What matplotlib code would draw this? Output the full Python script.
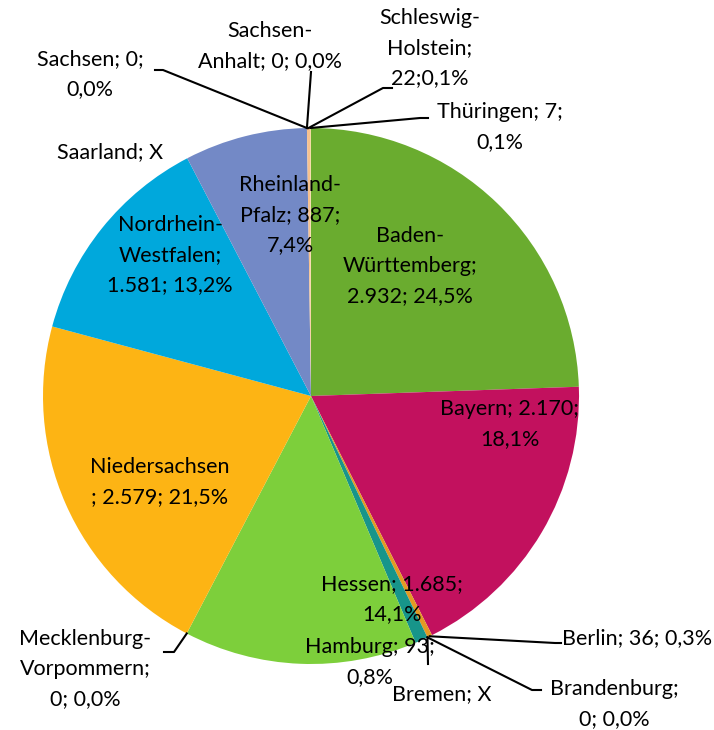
import matplotlib.pyplot as plt
import numpy as np

# Bundesländer, Werte (X = keine Angabe -> 0 im Diagramm)
laender = ['Baden-Württemberg', 'Bayern', 'Berlin', 'Brandenburg', 'Bremen', 'Hamburg',
           'Hessen', 'Mecklenburg-Vorpommern', 'Niedersachsen', 'Nordrhein-Westfalen',
           'Rheinland-Pfalz', 'Saarland', 'Sachsen', 'Sachsen-Anhalt',
           'Schleswig-Holstein', 'Thüringen']
werte = [2932, 2170, 36, 0, 0, 93, 1685, 0, 2579, 1581, 887, 0, 0, 0, 22, 7]
texte = ['Baden-\nWürttemberg;\n2.932; 24,5%', 'Bayern; 2.170;\n18,1%', 'Berlin; 36; 0,3%',
         'Brandenburg;\n0; 0,0%', 'Bremen; X', 'Hamburg; 93;\n0,8%', 'Hessen; 1.685;\n14,1%',
         'Mecklenburg-\nVorpommern;\n0; 0,0%', 'Niedersachsen\n; 2.579; 21,5%',
         'Nordrhein-\nWestfalen;\n1.581; 13,2%', 'Rheinland-\nPfalz; 887;\n7,4%', 'Saarland; X',
         'Sachsen; 0;\n0,0%', 'Sachsen-\nAnhalt; 0; 0,0%', 'Schleswig-\nHolstein;\n22;0,1%',
         'Thüringen; 7;\n0,1%']
farben = ['#6aac2f', '#c2115e', '#e39a23', '#888888', '#444444', '#17958a', '#7dcf3b',
          '#d33333', '#fdb414', '#00a8dc', '#7389c6', '#999999', '#777777', '#555555',
          '#f7c18f', '#f4d9a0']

H = 730
cx, cy, r = 311, H - 396, 268

# label position (pixel, y from top), alignment, elbow of leader line (None = no leader)
layout = {
    'Baden-Württemberg': ((410, 266), 'center', None),
    'Bayern': ((510, 424), 'center', None),
    'Berlin': ((562, 638), 'left', [(555, 643), (561, 643)]),
    'Brandenburg': ((614, 704), 'center', [(532, 690), (541, 690)]),
    'Bremen': ((442, 694), 'center', [(428, 664)]),
    'Hamburg': ((370, 662), 'center', None),
    'Hessen': ((392, 599), 'center', None),
    'Mecklenburg-Vorpommern': ((85, 669), 'center', [(174, 652), (164, 652)]),
    'Niedersachsen': ((160, 482), 'center', None),
    'Nordrhein-Westfalen': ((170, 255), 'center', None),
    'Rheinland-Pfalz': ((290, 215), 'center', None),
    'Saarland': ((110, 152), 'center', None),
    'Sachsen': ((90, 74), 'center', [(163, 70), (155, 70)]),
    'Sachsen-Anhalt': ((270, 46), 'center', [(311, 72)]),
    'Schleswig-Holstein': ((430, 48), 'center', [(383, 88), (392, 88)]),
    'Thüringen': ((500, 127), 'center', [(420, 118), (428, 118)]),
}

fig = plt.figure(figsize=(7.14, 7.30), dpi=100)
ax = fig.add_axes([0, 0, 1, 1])
wedges, _ = ax.pie(werte, colors=farben, startangle=90, counterclock=False,
                   center=(cx, cy), radius=r, wedgeprops=dict(linewidth=0))
ax.set_xlim(0, 714)
ax.set_ylim(0, H)
ax.set_aspect('equal')
ax.axis('off')

for w, name, txt in zip(wedges, laender, texte):
    (lx, ly), ha, elbow = layout[name]
    ax.text(lx, H - ly, txt, ha=ha, va='center', fontsize=15.5, family='Lato',
            linespacing=1.64, color='black', zorder=5)
    if elbow:
        a = np.deg2rad((w.theta1 + w.theta2) / 2)
        pts = [(cx + r * np.cos(a), cy + r * np.sin(a))] + [(x, H - y) for x, y in elbow]
        xs, ys = zip(*pts)
        ax.plot(xs, ys, color='black', lw=1.5, zorder=4)

fig.savefig('out.png', dpi=100)
